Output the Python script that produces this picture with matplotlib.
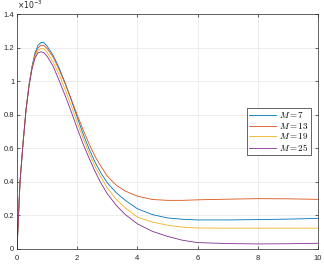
import matplotlib
matplotlib.use('Agg')
from matplotlib import pyplot as plt
from matplotlib.font_manager import FontProperties
from matplotlib.ticker import FuncFormatter, MultipleLocator

# values, y in units of 1e-3
t = [0, 0.05, 0.1, 0.2, 0.3, 0.4, 0.5, 0.6, 0.7, 0.8, 0.9, 1.0, 1.2, 1.4, 1.6, 1.8,
     2.0, 2.2, 2.4, 2.6, 2.8, 3.0, 3.3, 3.6, 4.0, 4.5, 5.0, 5.5, 6.0, 7.0, 8.0, 9.0, 10.0]
m7 = [0, 0.2, 0.4, 0.63, 0.83, 0.98, 1.09, 1.17, 1.215, 1.232, 1.23, 1.21, 1.155, 1.08,
      0.99, 0.89, 0.785, 0.685, 0.595, 0.515, 0.45, 0.395, 0.335, 0.29, 0.24, 0.205, 0.185,
      0.177, 0.173, 0.173, 0.175, 0.178, 0.182]
m13 = [0, 0.2, 0.4, 0.63, 0.83, 0.98, 1.085, 1.16, 1.2, 1.216, 1.213, 1.195, 1.145, 1.07,
       0.985, 0.895, 0.8, 0.71, 0.625, 0.55, 0.49, 0.435, 0.38, 0.345, 0.315, 0.295, 0.29,
       0.29, 0.293, 0.297, 0.3, 0.299, 0.296]
m19 = [0, 0.2, 0.4, 0.63, 0.83, 0.975, 1.08, 1.15, 1.185, 1.196, 1.192, 1.172, 1.115, 1.04,
       0.95, 0.855, 0.755, 0.66, 0.57, 0.49, 0.425, 0.365, 0.295, 0.245, 0.19, 0.16, 0.142,
       0.13, 0.125, 0.124, 0.124, 0.124, 0.124]
m25 = [0, 0.2, 0.4, 0.63, 0.83, 0.97, 1.075, 1.14, 1.17, 1.176, 1.17, 1.15, 1.09, 1.005,
       0.915, 0.82, 0.72, 0.625, 0.54, 0.46, 0.39, 0.33, 0.26, 0.205, 0.15, 0.105, 0.075,
       0.052, 0.038, 0.032, 0.03, 0.031, 0.034]
labels = ['$M = 7$', '$M = 13$', '$M = 19$', '$M = 25$']
colors = ['#0072BD', '#D95319', '#EDB120', '#7E2F8E']

plt.rcParams['font.family'] = ['Liberation Sans', 'DejaVu Sans']
axcol = '#262626'

fig = plt.figure(figsize=(3.24, 2.64), dpi=100)
ax = fig.add_axes([0.0525, 0.057, 0.9285, 0.889])

for y, lab, c in zip([m7, m13, m19, m25], labels, colors):
    ax.plot(t, y, color=c, lw=0.6, label=lab)

ax.set_xlim(0, 10)
ax.set_ylim(0, 1.4)
ax.xaxis.set_major_locator(MultipleLocator(2))
ax.yaxis.set_major_locator(MultipleLocator(0.2))
ax.yaxis.set_major_formatter(FuncFormatter(lambda v, p: '%g' % round(v, 3)))
ax.tick_params(direction='in', length=2.5, width=0.5, labelsize=5.5,
               colors=axcol, top=True, right=True, pad=2)
ax.tick_params(axis='x', pad=4)
for s in ax.spines.values():
    s.set_color(axcol)
    s.set_linewidth(0.5)
ax.grid(True, color='#e6e6e6', lw=0.5)
ax.set_axisbelow(True)

ax.text(0, 1.012, r'$\times10^{-3}$', transform=ax.transAxes, fontsize=5.5,
        color=axcol, ha='left', va='bottom')

leg = ax.legend(loc='center right', bbox_to_anchor=(0.977, 0.5), borderaxespad=0,
                prop=FontProperties(size=6.5, math_fontfamily='cm'),
                handlelength=3.0, labelspacing=0.08, borderpad=0.22,
                handletextpad=0.4, fancybox=False, framealpha=1)
leg.get_frame().set_edgecolor(axcol)
leg.get_frame().set_linewidth(0.5)

fig.savefig('out.png', dpi=100)
